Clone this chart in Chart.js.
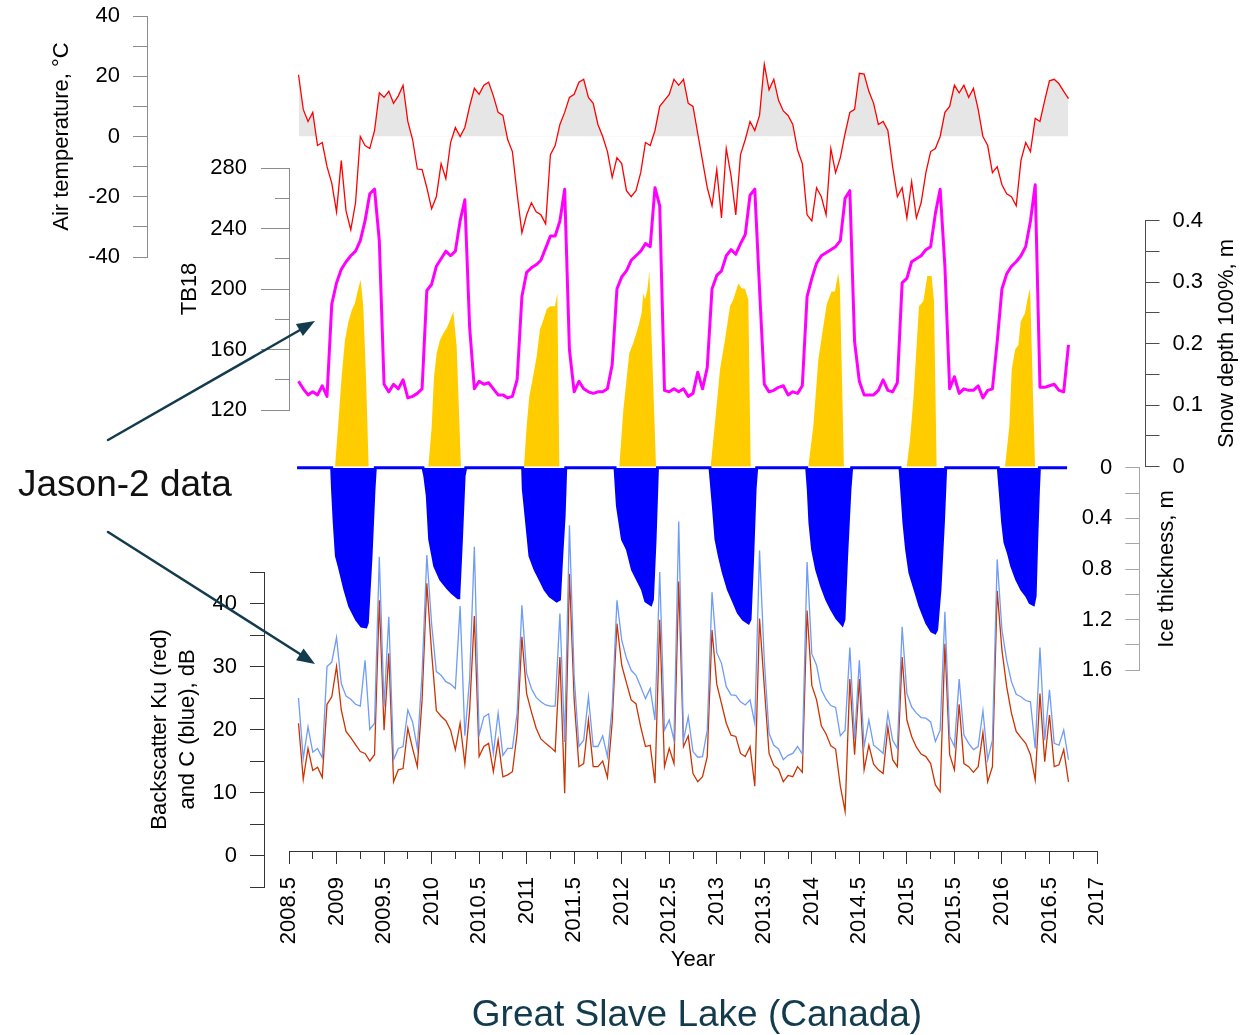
<!DOCTYPE html>
<html lang="en">
<head>
<meta charset="utf-8">
<title>Great Slave Lake (Canada)</title>
<script src="https://cdn.jsdelivr.net/npm/chart.js@4.4.1/dist/chart.umd.min.js"></script>
<style>
  html, body { margin:0; padding:0; background:#fff; }
  #stage { position:relative; width:1259px; height:1035px; overflow:hidden; background:#fff; }
  #stage canvas { position:absolute; left:0; top:0; }
  #overlay { position:absolute; left:0; top:0; pointer-events:none; font-family:'Liberation Sans', Arial, sans-serif; }
</style>
</head>
<body>
<div id="stage">
  <canvas id="cAir" width="1259" height="1035"></canvas>
  <canvas id="cSnow" width="1259" height="1035"></canvas>
  <canvas id="cTb" width="1259" height="1035"></canvas>
  <canvas id="cIce" width="1259" height="1035"></canvas>
  <canvas id="cIceAxis" width="1259" height="1035"></canvas>
  <canvas id="cBack" width="1259" height="1035"></canvas>
  <canvas id="cYear" width="1259" height="1035"></canvas>
  <svg id="overlay" width="1259" height="1035" viewBox="0 0 1259 1035">
    <g stroke="#123b4d" stroke-width="2.5" stroke-linecap="round">
      <line x1="108" y1="440" x2="300" y2="330"/>
      <line x1="108" y1="532" x2="300" y2="654"/>
    </g>
    <g fill="#123b4d">
      <polygon points="315,321 302.9,336.1 295.9,323.9"/>
      <polygon points="315,664 296.1,660.2 303.6,648.4"/>
    </g>
    <text x="18" y="496" font-size="37" fill="#111">Jason-2 data</text>
    <text transform="translate(1225,343.5) rotate(-90)" text-anchor="middle" dominant-baseline="central" font-size="22" fill="#000">Snow depth 100%, m</text>
    <text transform="translate(1165,569) rotate(-90)" text-anchor="middle" dominant-baseline="central" font-size="22" fill="#000">Ice thickness, m</text>
    <text x="697" y="1026" text-anchor="middle" font-size="37" fill="#123b4d">Great Slave Lake (Canada)</text>
  </svg>
</div>
<script>
// ===================== DATA =====================
// Regular series sampled every 0.05 year starting at 2008.60
const firstSampleYear = 2008.60;
const sampleStepYears = 0.05;

// Air temperature, °C
const airTemp = [
  20.5, 9, 5, 8, -3, -2, -10, -15.5,
  -25, -8, -24.7, -31, -22, 0, -3, -4, 2, 14.5, 13, 15, 11, 13.5, 17, 5, -1, -10.8, -11, -17,
  -24, -20, -9, -14, -2, 3, 0, 3, 10, 16, 14, 17, 18, 13.5, 8, 7, -1, -5, -19, -32,
  -26, -22, -25, -26, -29, -6, -3, 4, 8, 13, 14, 18, 19, 13, 11, 4, 0, -5, -13.6, -7,
  -9, -18, -20, -18, -12, -2, -3, 2, 10, 12, 14, 19, 17, 19, 11, 10, 1, -8, -17, -23,
  -11, -27, -4, -13, -26, -6, -1, 5, 2, 7, 24, 15.5, 19, 12, 8.5, 7, 4, -4.5, -9, -26,
  -28, -17, -20, -26, -4, -12, -7, 1, 8, 9, 21, 20.7, 15, 11, 4, 5, 2, -10, -20, -17,
  -27, -15, -27, -22, -12, -5, -4, 0, 8, 10, 17, 14.5, 17, 13, 16, 9, 0, -3, -12, -10,
  -16, -19, -20, -23, -8, -2, -5, 6, 5, 12, 18.5, 19, 17.5, 15, 12.6
];

// Brightness temperature TB18, K
const tb18 = [
  139, 134, 130, 132, 130, 136, 129, 190,
  204, 213, 218, 222, 225, 232, 245, 263, 266, 232, 137, 132, 137, 134, 140, 128, 129, 131, 134, 199,
  203, 215, 220, 225, 222, 225, 245, 259, 175, 134, 139, 137, 138, 134, 130, 130, 128, 129, 140, 195,
  211, 214, 216, 219, 227, 235, 235, 245, 266, 160, 132, 139, 134, 132, 131, 132, 132, 134, 150, 200,
  208, 212, 219, 222, 225, 230, 228, 267, 255, 133, 132, 134, 132, 134, 129, 131, 145, 134, 148, 200,
  209, 212, 222, 226, 223, 230, 236, 262, 266, 200, 137, 132, 133, 135, 136, 130, 132, 131, 136, 195,
  207, 217, 222, 224, 226, 228, 232, 260, 265, 165, 139, 130, 130, 130, 133, 140, 133, 132, 138, 204,
  207, 218, 220, 222, 226, 228, 250, 266, 215, 134, 142, 131, 134, 133, 133, 136, 128, 133, 134, 165,
  200, 210, 215, 218, 222, 228, 245, 269, 135, 135, 136, 137, 133, 132, 163
];

// Backscatter C band (blue), dB
const backscatterC = [
  25, 15.4, 20.4, 16.4, 17, 15.5, 30, 30.7,
  34.6, 27.3, 25.3, 24.8, 24, 23.7, 31, 20, 21, 47.4, 23.6, 37.9, 15.2, 17, 17.3, 23.1, 21.2, 17, 28.9, 47.7,
  36.8, 29.2, 28.6, 27.6, 27.2, 26.5, 39.6, 19, 28, 49, 19.1, 22, 22.5, 16.2, 22.6, 15.9, 17, 17, 22.6, 39.7,
  28.9, 26.5, 25.1, 24.4, 23.9, 23.7, 23.7, 38.4, 18, 52.4, 28.4, 17.3, 18.3, 25.2, 17.3, 17.3, 19, 15.7, 23.6, 40.5,
  34.2, 31.3, 29.4, 28.6, 26.8, 24.9, 26.5, 21.5, 45, 19.9, 21.5, 18.3, 53, 18.3, 22, 16.5, 15.6, 15.7, 19.9, 41.8,
  32.2, 30.5, 26.8, 25.5, 25.4, 24.4, 23.9, 24.7, 21, 48.4, 31, 19.4, 17.5, 16.9, 15.2, 15.9, 16.2, 17.3, 16.1, 46.6,
  32, 30.2, 26.3, 24.8, 23.8, 23.5, 19, 19.9, 33, 18.5, 31, 17.3, 21.5, 17.5, 16.9, 16.2, 22.6, 18.3, 17, 36.3,
  25.7, 23.6, 22.6, 21.9, 21.8, 21.2, 18.1, 19.9, 38.7, 18.9, 17.3, 28, 19.1, 17.8, 16.8, 17.3, 23, 15.2, 18.3, 47,
  35.8, 31, 27.6, 25.6, 25.2, 24.6, 24.4, 17, 33, 18.3, 26.3, 17.8, 17.5, 19.9, 15.2
];

// Backscatter Ku band (red), dB
const backscatterKu = [
  21, 12.1, 17, 13.5, 14, 12.4, 24, 25.2,
  30, 23.1, 19.7, 18.7, 17.6, 16.5, 16.2, 15, 16, 40.5, 19.9, 32.1, 11.7, 13.6, 13.8, 20.2, 17, 14.1, 24.7, 43.2,
  32.3, 23, 22.1, 21.4, 19.9, 16.8, 21, 14.5, 23, 38, 15.7, 17.3, 17.8, 13.3, 18.3, 12.5, 12.8, 13.3, 19.4, 34.7,
  25.7, 22.8, 20.2, 18.5, 17.8, 17.2, 16.5, 31.5, 9.9, 44.7, 24.7, 14.1, 14.6, 21.5, 14.1, 14.1, 15, 12.4, 21.2, 36.8,
  30.2, 27.4, 24.7, 24.1, 20.4, 17.3, 17.5, 11.5, 37.4, 14.1, 17, 14.6, 43.5, 17.3, 19, 13, 11.7, 12.5, 15.7, 35.8,
  27.2, 24.1, 21, 19.1, 18.9, 16.2, 15.7, 17.3, 11, 37.6, 26.8, 16.2, 14.3, 13.7, 11.7, 12.7, 12.5, 14.1, 13.2, 38.9,
  27, 24.7, 20.6, 19.3, 17.4, 16.9, 11, 7, 28, 16, 28, 13.6, 17.5, 14.5, 13.6, 13, 20.4, 15.2, 14.1, 31.5,
  21.5, 18.9, 17.2, 16.1, 15.7, 14.6, 11.2, 10.1, 33.6, 16, 13.6, 24, 14.6, 14.1, 13.2, 14.1, 19.5, 11.7, 14.1, 42,
  32.6, 26.8, 22.6, 19.7, 18.7, 17.8, 16, 12, 25.7, 14.9, 22.3, 14.1, 14.4, 16.8, 11.7
];

// Snow depth (m) - one shape per winter
const snowYears = [
  2008.984, 2009.019, 2009.054, 2009.089, 2009.124, 2009.159, 2009.194, 2009.229, 2009.254, 2009.282, 2009.310, 2009.338,
  2009.966, 2010.001, 2010.025, 2010.053, 2010.088, 2010.124, 2010.159, 2010.194, 2010.229, 2010.264, 2010.309,
  2010.972, 2011.000, 2011.028, 2011.081, 2011.105, 2011.140, 2011.176, 2011.211, 2011.246, 2011.298, 2011.323, 2011.344,
  2011.975, 2012.017, 2012.080, 2012.122, 2012.175, 2012.210, 2012.227, 2012.245, 2012.270, 2012.291, 2012.361,
  2012.936, 2012.981, 2013.034, 2013.087, 2013.139, 2013.174, 2013.227, 2013.262, 2013.297, 2013.332, 2013.357,
  2013.963, 2014.016, 2014.068, 2014.121, 2014.156, 2014.208, 2014.243, 2014.278, 2014.296, 2014.338,
  2014.998, 2015.033, 2015.068, 2015.127, 2015.173, 2015.215, 2015.260, 2015.285, 2015.313,
  2016.032, 2016.078, 2016.103, 2016.138, 2016.173, 2016.198, 2016.243, 2016.268, 2016.296, 2016.348
];
const snowDepth = [
  0, 0.071, 0.147, 0.206, 0.235, 0.254, 0.266, 0.290, 0.304, 0.260, 0.146, 0,
  0, 0.065, 0.146, 0.184, 0.206, 0.217, 0.225, 0.238, 0.252, 0.195, 0,
  0, 0.066, 0.114, 0.158, 0.179, 0.223, 0.239, 0.256, 0.261, 0.261, 0.282, 0,
  0, 0.092, 0.185, 0.201, 0.228, 0.250, 0.282, 0.272, 0.288, 0.318, 0,
  0, 0.071, 0.158, 0.207, 0.261, 0.272, 0.298, 0.290, 0.289, 0.272, 0,
  0, 0.066, 0.174, 0.228, 0.264, 0.285, 0.285, 0.315, 0.290, 0,
  0, 0.044, 0.109, 0.261, 0.269, 0.310, 0.310, 0.270, 0,
  0, 0.066, 0.158, 0.190, 0.198, 0.236, 0.250, 0.272, 0.290, 0
];

// Ice thickness (m)
const iceYears = [
  2008.585,
  2008.949, 2008.958, 2008.976, 2008.999, 2009.027, 2009.087, 2009.139, 2009.210, 2009.263, 2009.309, 2009.324, 2009.363, 2009.394, 2009.408,
  2009.910, 2009.928, 2009.955, 2009.980, 2010.033, 2010.096, 2010.166, 2010.215, 2010.279, 2010.286, 2010.314, 2010.342, 2010.359,
  2010.958, 2010.965, 2010.983, 2011.035, 2011.088, 2011.141, 2011.193, 2011.246, 2011.316, 2011.345, 2011.369, 2011.394, 2011.411,
  2011.930, 2011.955, 2012.008, 2012.060, 2012.113, 2012.165, 2012.218, 2012.253, 2012.306, 2012.323, 2012.351, 2012.376,
  2012.929, 2012.964, 2012.992, 2013.027, 2013.069, 2013.122, 2013.174, 2013.227, 2013.280, 2013.333, 2013.350, 2013.378, 2013.403, 2013.420,
  2013.946, 2013.963, 2013.980, 2014.008, 2014.050, 2014.103, 2014.156, 2014.208, 2014.261, 2014.321, 2014.338, 2014.366, 2014.401, 2014.419,
  2014.928, 2014.945, 2014.969, 2014.997, 2015.032, 2015.085, 2015.138, 2015.208, 2015.261, 2015.296, 2015.313, 2015.348, 2015.384, 2015.408,
  2015.962, 2015.980, 2016.008, 2016.032, 2016.067, 2016.103, 2016.155, 2016.208, 2016.261, 2016.296, 2016.331, 2016.349, 2016.366, 2016.384, 2016.394,
  2016.685
];
const iceThickness = [
  0,
  0, 0.170, 0.433, 0.697, 0.776, 0.961, 1.093, 1.198, 1.251, 1.257, 1.225, 0.697, 0.170, 0,
  0, 0.063, 0.222, 0.565, 0.776, 0.882, 0.948, 0.987, 1.027, 1.014, 0.565, 0.063, 0,
  0, 0.169, 0.301, 0.697, 0.803, 0.882, 0.961, 1.014, 1.053, 1.040, 0.697, 0.380, 0,
  0, 0.301, 0.565, 0.645, 0.803, 0.882, 0.961, 1.053, 1.080, 1.040, 0.565, 0,
  0, 0.301, 0.565, 0.697, 0.829, 0.961, 1.053, 1.145, 1.198, 1.225, 1.198, 0.697, 0.169, 0,
  0, 0.169, 0.433, 0.645, 0.803, 0.935, 1.040, 1.119, 1.185, 1.238, 1.198, 0.697, 0.169, 0,
  0, 0.169, 0.433, 0.645, 0.829, 0.961, 1.093, 1.225, 1.291, 1.304, 1.278, 0.961, 0.433, 0,
  0, 0.169, 0.433, 0.590, 0.671, 0.776, 0.882, 0.961, 1.014, 1.066, 1.080, 1.014, 0.565, 0.169, 0,
  0
];

// Tick labels
const yearTickLabels = ['2008.5','2009','2009.5','2010','2010.5','2011','2011.5','2012','2012.5','2013','2013.5','2014','2014.5','2015','2015.5','2016','2016.5','2017'];
const airTempTickLabels = ['-40','-20','0','20','40'];
const tbTickLabels = ['120','160','200','240','280'];
const snowTickLabels = ['0','0.1','0.2','0.3','0.4'];
const iceTickLabels = ['0','0.4','0.8','1.2','1.6'];
const backscatterTickLabels = ['0','10','20','30','40'];

// ===================== LAYOUT =====================
const FONT = "'Liberation Sans', Arial, Helvetica, sans-serif";
Chart.defaults.font.family = FONT;
Chart.defaults.font.size = 22;
Chart.defaults.color = '#000';

const CW = 1259, CH = 1035;
const pxYearStart = 289, pxYearEnd = 1097;      // pixel positions of 2008.5 and 2017
const yearMin = 2008.5, yearMax = 2017;
const pxPerYear = (pxYearEnd - pxYearStart) / (yearMax - yearMin);
const yearAtPx = px => yearMin + (px - pxYearStart) / pxPerYear;

function findLabel(list, v) {
  for (const l of list) { if (Math.abs(parseFloat(l) - v) < 1e-6) return l; }
  return null;
}
const labelFor = (list, v) => { const l = findLabel(list, v); return l === null ? '' : l; };
const isMajor = (list, v) => findLabel(list, v) !== null;

function hiddenScale(min, max, reverse) {
  return { type: 'linear', display: false, min, max, reverse: !!reverse };
}

function yAxis(o) {
  const minor = c => o.minorLength && c && c.tick && !isMajor(o.labels, c.tick.value);
  return {
    type: 'linear', display: true, position: o.position, min: o.min, max: o.max, reverse: !!o.reverse,
    afterFit: s => { s.width = o.width; s.paddingTop = 0; s.paddingBottom = 0; },
    border: { display: true, color: o.color, width: 1 },
    grid: {
      display: true, drawOnChartArea: false, drawTicks: true,
      tickLength: o.tickLength, color: o.color, tickColor: o.color, tickWidth: 1, lineWidth: 1,
      tickBorderDash: c => minor(c) ? [o.minorLength, o.tickLength - o.minorLength] : [],
      tickBorderDashOffset: c => minor(c) ? o.minorLength : 0
    },
    ticks: {
      display: true, stepSize: o.step, autoSkip: false, maxTicksLimit: 1000,
      padding: o.padding, color: '#000', font: { size: 22, family: FONT },
      callback: v => labelFor(o.labels, v)
    },
    title: o.title ? {
      display: true, text: o.title, color: '#000',
      font: { size: 22, family: FONT, lineHeight: o.titleLineHeight || 1.2 },
      padding: { top: 0, bottom: 0 }
    } : { display: false }
  };
}

function makeChart(id, padding, scales, datasets) {
  return new Chart(document.getElementById(id), {
    type: 'line',
    data: { datasets: datasets || [] },
    options: {
      responsive: false, animation: false, devicePixelRatio: 1, events: [],
      layout: { autoPadding: false, padding },
      plugins: { legend: { display: false }, tooltip: { enabled: false }, title: { display: false } },
      elements: { point: { radius: 0 }, line: { tension: 0 } },
      scales
    }
  });
}

const sampleYears = airTemp.map((_, i) => +(firstSampleYear + i * sampleStepYears).toFixed(3));
const pts = (xs, ys) => ys.map((y, i) => ({ x: xs[i], y }));

// ---- Air temperature ----
{
  const axisX = 147, axisW = 98.2, top = 16, bottom = 257;
  makeChart('cAir',
    { left: axisX - axisW, right: CW - pxYearEnd, top, bottom: CH - bottom },
    {
      x: hiddenScale(yearAtPx(axisX), yearMax),
      y: yAxis({ position: 'left', min: -40, max: 40, step: 10, labels: airTempTickLabels, width: axisW,
                 tickLength: 14, padding: 13, color: '#8c8c8c', title: 'Air temperature, °C' })
    },
    [{
      data: pts(sampleYears, airTemp), borderColor: '#ff0000', borderWidth: 1.3,
      fill: { value: 0, above: '#e6e6e6', below: 'rgba(0,0,0,0)' }, backgroundColor: '#e6e6e6'
    }]);
}

// ---- Snow depth ----
{
  const axisX = 1145.5, axisW = 60, top = 220.7, bottom = 466.7;
  makeChart('cSnow',
    { left: pxYearStart, right: CW - axisX - axisW, top, bottom: CH - bottom },
    {
      x: hiddenScale(yearMin, yearAtPx(axisX)),
      y: yAxis({ position: 'right', min: 0, max: 0.4, step: 0.05, labels: snowTickLabels, width: axisW,
                 tickLength: 14, padding: 13, color: '#4d4d4d' })
    },
    [{
      data: pts(snowYears, snowDepth), borderWidth: 0, borderColor: 'rgba(0,0,0,0)',
      backgroundColor: '#ffcc00', fill: 'origin'
    }]);
}

// ---- TB18 ----
{
  const axisX = 289, axisW = 112.2, top = 168, bottom = 410;
  makeChart('cTb',
    { left: axisX - axisW, right: CW - pxYearEnd, top, bottom: CH - bottom },
    {
      x: hiddenScale(yearMin, yearMax),
      y: yAxis({ position: 'left', min: 120, max: 280, step: 20, labels: tbTickLabels, width: axisW,
                 tickLength: 28, minorLength: 14, padding: 14, color: '#8c8c8c', title: 'TB18' })
    },
    [{
      data: pts(sampleYears, tb18), borderColor: '#ff00ff', borderWidth: 3, fill: false,
      borderJoinStyle: 'round'
    }]);
}

// ---- Ice thickness (data) ----
const iceTop = 467.7, iceBottom = 670.3;
makeChart('cIce',
  { left: pxYearStart, right: CW - pxYearEnd, top: iceTop, bottom: CH - iceBottom },
  { x: hiddenScale(yearMin, yearMax), y: hiddenScale(0, 1.6, true) },
  [{
    data: pts(iceYears, iceThickness), borderColor: '#0000ff', borderWidth: 3,
    backgroundColor: '#0000ff', fill: 'origin', clip: false
  }]);

// ---- Ice thickness (axis) ----
{
  const axisX = 1139.3, axisW = 60;
  makeChart('cIceAxis',
    { left: axisX - axisW, right: CW - 1150, top: iceTop, bottom: CH - iceBottom },
    {
      x: hiddenScale(0, 1),
      y: yAxis({ position: 'left', min: 0, max: 1.6, reverse: true, step: 0.2, labels: iceTickLabels, width: axisW,
                 tickLength: 14, padding: 13, color: '#a6a6a6' })
    }, []);
}

// ---- Backscatter ----
{
  const axisX = 264, axisW = 118, top = 572, bottom = 887;
  makeChart('cBack',
    { left: axisX - axisW, right: CW - pxYearEnd, top, bottom: CH - bottom },
    {
      x: hiddenScale(yearAtPx(axisX), yearMax),
      y: yAxis({ position: 'left', min: -5, max: 45, step: 5, labels: backscatterTickLabels, width: axisW,
                 tickLength: 14, padding: 13, color: '#333333',
                 title: ['Backscatter Ku (red)', 'and C (blue), dB'], titleLineHeight: 1.27 })
    },
    [
      { data: pts(sampleYears, backscatterC), borderColor: '#6e9cf7', borderWidth: 1.3, fill: false, clip: false },
      { data: pts(sampleYears, backscatterKu), borderColor: '#cc3300', borderWidth: 1.3, fill: false, clip: false }
    ]);
}

// ---- Year axis ----
{
  const axisY = 851, axisH = 121.7;
  makeChart('cYear',
    { left: pxYearStart, right: CW - pxYearEnd, top: 700, bottom: CH - axisY - axisH },
    {
      x: {
        type: 'linear', display: true, position: 'bottom', min: yearMin, max: yearMax,
        afterFit: s => { s.height = axisH; s.paddingLeft = 0; s.paddingRight = 0; },
        border: { display: true, color: '#333333', width: 1 },
        grid: {
          display: true, drawOnChartArea: false, drawTicks: true, tickLength: 13,
          color: '#333333', tickColor: '#333333', tickWidth: 1,
          tickBorderDash: c => (c && c.tick && !isMajor(yearTickLabels, c.tick.value)) ? [7, 20] : [],
          tickBorderDashOffset: 0
        },
        ticks: {
          stepSize: 0.25, autoSkip: false, maxTicksLimit: 1000, minRotation: 90, maxRotation: 90,
          padding: 13, color: '#000', font: { size: 22, family: FONT },
          callback: v => labelFor(yearTickLabels, v)
        },
        title: { display: true, text: 'Year', color: '#000', font: { size: 22, family: FONT }, padding: { top: 0, bottom: 0 } }
      },
      y: hiddenScale(0, 1)
    }, []);
}
</script>
</body>
</html>
